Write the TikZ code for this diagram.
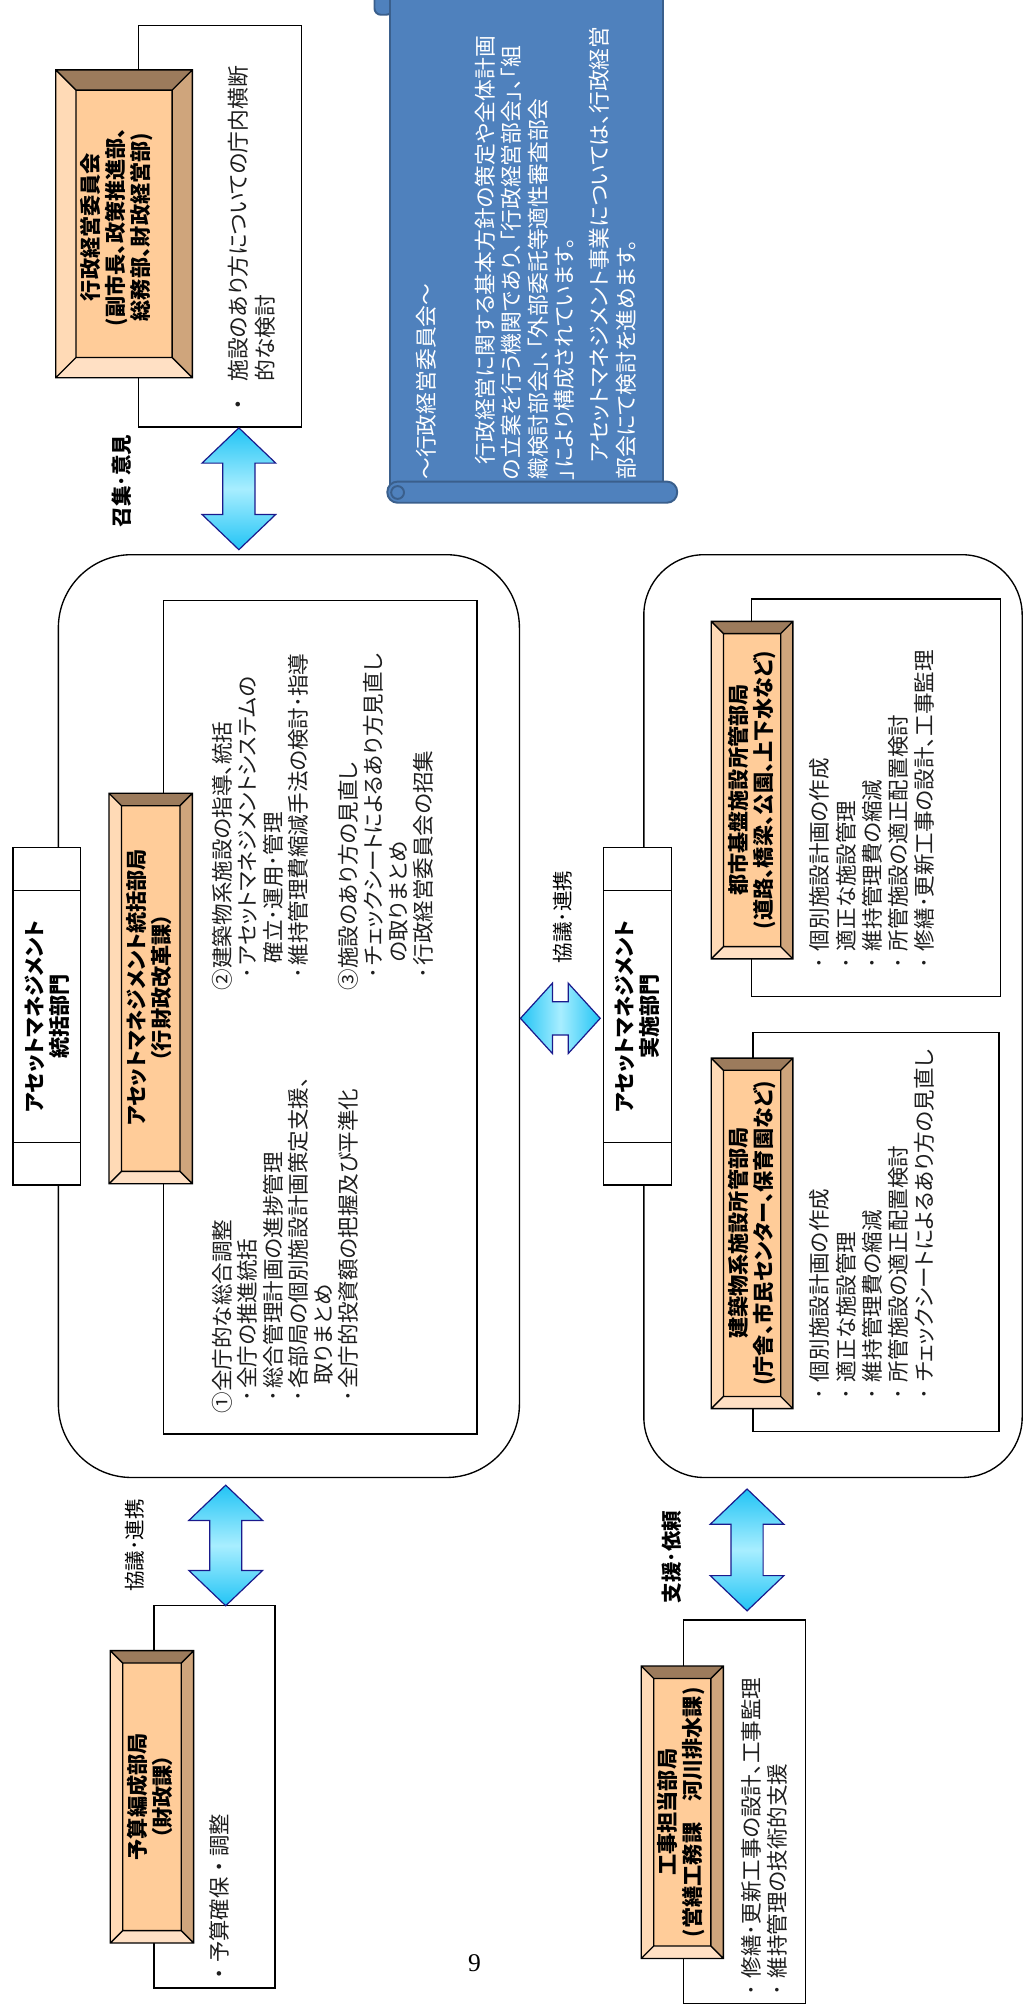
\documentclass[tikz,border=0pt]{standalone}
\usepackage{fontspec}
\setmainfont{Noto Sans CJK JP}[RawFeature=+palt]
\newfontfamily\jpfull{Noto Sans CJK JP}
\newfontfamily\serifnum{Liberation Serif}
\usetikzlibrary{fit}
\definecolor{bevFace}{HTML}{FFCC99}
\definecolor{bevTop}{HTML}{9C7B5C}
\definecolor{bevRight}{HTML}{CFA57C}
\definecolor{bevLeft}{HTML}{FFDAB6}
\definecolor{bevBottom}{HTML}{FFE0C4}
\definecolor{arrowDeep}{HTML}{22C4F5}
\definecolor{arrowLight}{HTML}{A8EEFF}
\definecolor{arrowLine}{HTML}{1A1A8C}
\definecolor{scrollBlue}{HTML}{4F81BD}
\definecolor{scrollDark}{HTML}{3A5F8C}
\definecolor{bodyText}{HTML}{1E1E1E}

% bevelled box: name, x1, y1, x2, y2, thickness
\newcommand{\mybevel}[6]{%
  \node[fit={(#2,#3) (#4,#5)}, inner sep=0pt] (#1) {};
  \fill[bevFace] (#2,#3) rectangle (#4,#5);
  \fill[bevTop] (#2,#3) -- (#4,#3) -- (#4-#6,#3+#6) -- (#2+#6,#3+#6) -- cycle;
  \fill[bevRight] (#4,#3) -- (#4,#5) -- (#4-#6,#5-#6) -- (#4-#6,#3+#6) -- cycle;
  \fill[bevBottom] (#2,#5) -- (#4,#5) -- (#4-#6,#5-#6) -- (#2+#6,#5-#6) -- cycle;
  \fill[bevLeft] (#2,#3) -- (#2,#5) -- (#2+#6,#5-#6) -- (#2+#6,#3+#6) -- cycle;
  \draw[bevline] (#2,#3) rectangle (#4,#5) (#2+#6,#3+#6) rectangle (#4-#6,#5-#6)
    (#2,#3) -- (#2+#6,#3+#6) (#4,#3) -- (#4-#6,#3+#6)
    (#4,#5) -- (#4-#6,#5-#6) (#2,#5) -- (#2+#6,#5-#6);
}
% vertical block arrow: name, cx, ytop, ybottom
\newcommand{\myvarrow}[4]{%
  \coordinate (#1-a) at (#2,#3);
  \coordinate (#1-b) at (#2,#4);
  \shade[vblockarrow] (#1-a) -- (#2+28.75,#3+27.5) -- (#2+12.5,#3+27.5)
    -- (#2+12.5,#4-27.5) -- (#2+28.75,#4-27.5) -- (#1-b)
    -- (#2-28.75,#4-27.5) -- (#2-12.5,#4-27.5) -- (#2-12.5,#3+27.5)
    -- (#2-28.75,#3+27.5) -- cycle;
}
% horizontal block arrow: name, xleft, xright, cy
\newcommand{\myharrow}[4]{%
  \coordinate (#1-a) at (#2,#4);
  \coordinate (#1-b) at (#3,#4);
  \shade[hblockarrow] (#1-a) -- (#2+25,#4-27.5) -- (#2+25,#4-13)
    -- (#3-25,#4-13) -- (#3-25,#4-27.5) -- (#1-b)
    -- (#3-25,#4+27.5) -- (#3-25,#4+13) -- (#2+25,#4+13)
    -- (#2+25,#4+27.5) -- cycle;
}
\newcommand{\mybul}{\hspace*{0.55em}･\hspace*{0.1em}}
\newcommand{\myind}[1]{\hspace*{#1em}}
\newcommand{\mybulr}{･\hspace*{0.3em}}
\newcommand{\myfst}{\rule{0pt}{1em}}

\begin{document}
\begin{tikzpicture}[x=0.03cm, y=-0.03cm,
  every node/.style={inner sep=0pt, outer sep=0pt},
  plainbox/.style={draw=black, line width=0.9pt, fill=white, inner sep=0pt},
  bevline/.style={draw=black, line width=0.9pt},
  vblockarrow/.style={draw=arrowLine, line width=0.8pt, top color=arrowDeep, bottom color=arrowDeep, middle color=arrowLight},
  hblockarrow/.style={draw=arrowLine, line width=0.8pt, left color=arrowDeep, right color=arrowDeep, middle color=arrowLight},
  scrollshape/.style={fill=scrollBlue, draw=scrollDark, line width=1.3pt},
  rtext/.style={rotate=90, anchor=north west, align=left, text=bodyText},
  bodyfont/.style={font=\fontsize{14.34pt}{16.73pt}\selectfont},
  rfont/.style={font=\fontsize{14.34pt}{17.5pt}\selectfont},
  titletext/.style={rotate=90, align=center, font=\bfseries\fontsize{14.08pt}{16.64pt}\selectfont},
  labeltext/.style={rotate=90, font=\fontsize{13.66pt}{13.66pt}\selectfont},
  scrolltext/.style={rotate=90, anchor=north west, align=left, text=white, font=\fontsize{14.5pt}{17.67pt}\selectfont}]

\useasboundingbox (0,0) rectangle (798,1568);
\fill[white] (0,0) rectangle (798,1568);

% ---------- scroll ----------
\draw[scrollshape, rounded corners=0.15cm] (292,-10) rectangle (306,11.5);
\draw[scrollshape] (304,-3) rectangle (517,383);
\draw[scrollshape, rounded corners=0.24cm] (302,375.5) rectangle (528,392);
\draw[scrollshape] (310,384) circle (5);
\node[scrolltext] (scrollT) at (322,374) {\myfst ～行政経営委員会～};
\node[scrolltext] (scrollP1) at (367.5,374) {\myfst\myind{0.7}行政経営に関する基本方針の策定や全体計画\\
の立案を行う機関であり、「行政経営部会」、「組\\
織検討部会」、「外部委託等適性審査部会\\
」により構成されています。};
\node[scrolltext] (scrollP2) at (457,374) {\myfst\myind{0.8}アセットマネジメント事業については、行政経営\\
部会にて検討を進めます。};

% ---------- 行政経営委員会 ----------
\node[plainbox, fit={(108,20) (235,333)}] (boxA) {};
\mybevel{bevA}{43.5}{54.5}{150}{294.5}{15.8}
\node[titletext] (titleA) at (91,177) {行政経営委員会\\(副市長、政策推進部、\\総務部、財政経営部)};
\node[rtext, font=\fontsize{14.5pt}{17.5pt}\selectfont] (textA) at (175.5,324)
  {\myfst{\jpfull ・}\hspace*{0.57em}施設のあり方についての庁内横断\\\myind{1.57}的な検討};

% ---------- 統括部門 ----------
\node[plainbox, rounded corners=1.71cm, fit={(45.5,432.5) (405,1152)}] (groupL) {};
\node[plainbox, fit={(127.5,468) (372,1118)}] (innerL) {};
\node[plainbox, fit={(10,661) (63,924)}] (deptL) {};
\draw[line width=0.9pt] (10,694.5) -- (63,694.5) (10,891) -- (63,891);
\node[titletext] (deptLt) at (36.5,792.5) {アセットマネジメント\\統括部門};
\mybevel{bevL}{85}{618.5}{150}{923}{9.7}
\node[titletext] (titleL) at (116.5,770) {アセットマネジメント統括部局\\（行財政改革課）};
\node[rtext, bodyfont] (col1) at (163.1,1102) {\myfst①全庁的な総合調整\\
\mybul 全庁の推進統括\\
\mybul 総合管理計画の進捗管理\\
\mybul 各部局の個別施設計画策定支援、\\
\myind{1.35}取りまとめ\\
\mybul 全庁的投資額の把握及び平準化};
\node[rtext, bodyfont] (col2a) at (163.1,772) {\myfst②建築物系施設の指導、統括\\
\mybul アセットマネジメントシステムの\\
\myind{1.25}確立･運用･管理\\
\mybul 維持管理費縮減手法の検討･指導};
\node[rtext, bodyfont] (col2b) at (261.1,772) {\myfst③施設のあり方の見直し\\
\mybul チェックシートによるあり方見直し\\
\myind{1.3}の取りまとめ\\
\mybul 行政経営委員会の招集};

% ---------- 実施部門 ----------
\node[plainbox, rounded corners=1.41cm, fit={(502,432.5) (797,1152)}] (groupR) {};
\node[plainbox, fit={(586,467) (780,777)}] (innerR1) {};
\node[plainbox, fit={(587,805) (779,1116)}] (innerR2) {};
\node[plainbox, fit={(470.7,661) (523.4,924)}] (deptR) {};
\draw[line width=0.9pt] (470.7,694.5) -- (523.4,694.5) (470.7,891) -- (523.4,891);
\node[titletext] (deptRt) at (497,792.5) {アセットマネジメント\\実施部門};
\mybevel{bevR1}{554.6}{484.5}{618.2}{747.6}{9.5}
\node[titletext] (titleR1) at (586,616) {都市基盤施設所管部局\\(道路、橋梁、公園、上下水など)};
\mybevel{bevR2}{554.6}{825}{618.2}{1098.3}{9.5}
\node[titletext] (titleR2) at (586,961.5) {建築物系施設所管部局\\(庁舎、市民センター、保育園など)};
\node[rtext, rfont] (listR1) at (628.6,755) {\myfst\mybulr 個別施設計画の作成\\
\mybulr 適正な施設管理\\
\mybulr 維持管理費の縮減\\
\mybulr 所管施設の適正配置検討\\
\mybulr 修繕･更新工事の設計、工事監理};
\node[rtext, rfont] (listR2) at (628.6,1091) {\myfst\mybulr 個別施設計画の作成\\
\mybulr 適正な施設管理\\
\mybulr 維持管理費の縮減\\
\mybulr 所管施設の適正配置検討\\
\mybulr チェックシートによるあり方の見直し};

% ---------- 予算編成部局 ----------
\node[plainbox, fit={(120,1252) (214.5,1550)}] (boxD) {};
\mybevel{bevD}{86}{1287}{151}{1515}{9.7}
\node[titletext] (titleD) at (117,1401) {予算編成部局\\（財政課）};
\node[rtext, font=\jpfull\fontsize{14.17pt}{17pt}\selectfont] (textD) at (160.7,1547) {\myfst・予算確保・調整};

% ---------- 工事担当部局 ----------
\node[plainbox, fit={(533,1263) (628,1562)}] (boxE) {};
\mybevel{bevE}{500}{1299}{564}{1527}{9.7}
\node[titletext] (titleE) at (531,1413) {工事担当部局\\(営繕工務課　河川排水課)};
\node[rtext, font=\fontsize{14.34pt}{17.07pt}\selectfont] (textE) at (575.6,1556) {\myfst\mybulr 修繕･更新工事の設計、工事監理\\
\mybulr 維持管理の技術的支援};

% ---------- arrows ----------
\myvarrow{arA}{186.25}{333.6}{428.6}
\myharrow{arM}{405.8}{468}{794}
\myvarrow{arD}{176}{1158}{1252}
\myvarrow{arE}{582.5}{1161}{1256}

% ---------- labels ----------
\node[labeltext, font=\bfseries\fontsize{13.66pt}{13.66pt}\selectfont] (labA) at (95,375) {召集･意見};
\node[labeltext] (labM) at (439,715) {協議･連携};
\node[labeltext] (labD) at (105,1205) {協議･連携};
\node[labeltext, font=\bfseries\fontsize{13.66pt}{13.66pt}\selectfont] (labE) at (524,1214) {支援･依頼};

% ---------- page number ----------
\node[font=\serifnum\fontsize{17pt}{17pt}\selectfont] (pnum) at (370,1531) {9};
\end{tikzpicture}
\end{document}
